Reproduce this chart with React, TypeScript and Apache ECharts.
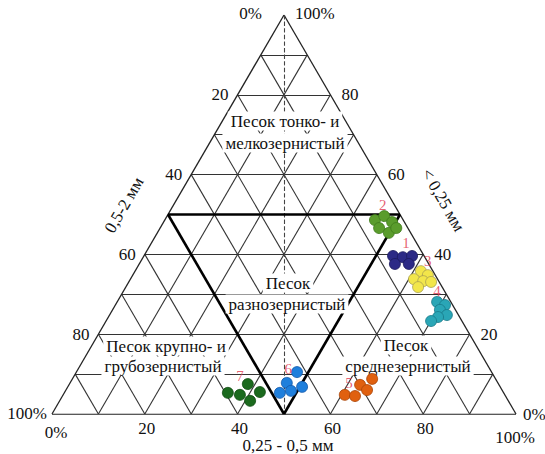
import React, { useEffect, useRef } from "react";
import * as echarts from "echarts";

// Triangle frame in pixels (base from left to right, apex on top)
const FRAME = { left: 52, top: 15, width: 464, height: 399 };
const APEX_X = FRAME.left + FRAME.width / 2;

// Grid every 10 %
const GRID_STEPS = [10, 20, 30, 40, 50, 60, 70, 80, 90];

// Tick labels on the three sides
const LEFT_TICKS = ["20", "40", "60", "80"];
const RIGHT_TICKS = ["80", "60", "40", "20"];
const BOTTOM_TICKS = ["20", "40", "60", "80"];
const TICK_FRACTIONS = [0.2, 0.4, 0.6, 0.8];

// Sample groups: [x along the base %, height %]
const group1 = [[73.5, 39.6], [75.6, 39.3], [77.6, 39.6], [73.9, 37.6], [76.9, 37.6]];
const group2 = [[69.6, 48.6], [71.6, 49.6], [73.3, 48.1], [70.5, 46.6], [72.6, 45.4], [74.2, 46.6]];
const group3 = [[79.5, 35.8], [81.0, 34.8], [78.0, 33.8], [80.0, 33.3], [81.7, 33.1], [78.9, 31.8]];
const group4 = [[83.0, 28.1], [84.7, 27.3], [83.6, 26.1], [85.1, 24.8], [83.2, 24.3], [81.7, 23.3]];
const group5 = [[66.4, 7.3], [69.0, 8.8], [67.9, 6.0], [63.1, 4.8], [65.3, 4.5]];
const group6 = [[52.8, 10.5], [50.6, 7.8], [49.1, 5.3], [51.5, 5.8], [53.9, 6.8]];
const group7 = [[42.2, 7.5], [44.8, 5.5], [37.9, 5.3], [40.5, 4.8], [42.7, 3.3]];

const groupNames = ["1", "2", "3", "4", "5", "6", "7"];
const groupLabelPos = [[76.3, 42.9], [71.3, 52.4], [81.0, 38.3], [83.0, 30.8], [64.0, 7.8], [50.9, 11.3], [40.5, 9.5]];
const groupColors = ["#2c2a86", "#5a9c2c", "#f2e64a", "#2aa6b6", "#e0600f", "#1f7fdc", "#1b6a1e"];
const groupBorders = ["#1c1a5c", "#3e7a1a", "#a8a050", "#187888", "#a84408", "#1458a8", "#0e4a10"];

const SERIF = "'Times New Roman', 'Liberation Serif', 'DejaVu Serif', serif";

function text(x: number, y: number, t: string, align: string, extra: any = {}) {
  return {
    type: "text",
    x,
    y,
    z: 20,
    ...extra,
    style: {
      text: t,
      fontFamily: SERIF,
      fontSize: 17,
      fill: "#111",
      align,
      textAlign: align,
      verticalAlign: "middle",
      textVerticalAlign: "middle",
      ...(extra.style || {}),
    },
  };
}

function regionLabel(x: number, y: number, t: string) {
  return text(x, y, t, "center", {
    style: { backgroundColor: "#fff", padding: [1, 3] },
  });
}

export default function App() {
  const ref = useRef<HTMLDivElement>(null);

  useEffect(() => {
    if (!ref.current) return;
    const chart = echarts.init(ref.current, undefined, { renderer: "svg" });

    const gridSegs: any[] = [];
    for (const k of GRID_STEPS) {
      gridSegs.push({ coords: [[k / 2, k], [100 - k / 2, k]] });
      gridSegs.push({ coords: [[k, 0], [50 + k / 2, 100 - k]] });
      gridSegs.push({ coords: [[100 - k, 0], [50 - k / 2, 100 - k]] });
    }
    const outline = [
      { coords: [[0, 0], [100, 0]] },
      { coords: [[0, 0], [50, 100]] },
      { coords: [[100, 0], [50, 100]] },
    ];
    const thick = [
      { coords: [[25, 50], [75, 50]] },
      { coords: [[25, 50], [50, 0]] },
      { coords: [[75, 50], [50, 0]] },
    ];
    const axisLine = [{ coords: [[50, 100], [50, 0]] }];

    const groups = [group1, group2, group3, group4, group5, group6, group7];

    const graphics: any[] = [];
    TICK_FRACTIONS.forEach((t, i) => {
      const y = FRAME.top + FRAME.height * t;
      graphics.push(text(APEX_X - (FRAME.width / 2) * t - 9, y, LEFT_TICKS[i], "right"));
      graphics.push(text(APEX_X + (FRAME.width / 2) * t + 11, y, RIGHT_TICKS[i], "left"));
      graphics.push(text(FRAME.left + FRAME.width * t + 2, 428, BOTTOM_TICKS[i], "center"));
    });
    graphics.push(text(262, 13, "0%", "right"));
    graphics.push(text(295, 13, "100%", "left"));
    graphics.push(text(47, 413, "100%", "right"));
    graphics.push(text(56, 432, "0%", "center"));
    graphics.push(text(523, 414, "0%", "left"));
    graphics.push(text(515, 437, "100%", "center"));
    graphics.push(text(288, 445, "0,25 - 0,5 мм", "center"));
    graphics.push(text(124, 205, "0,5-2 мм", "center", { rotation: Math.PI / 3 }));
    graphics.push(text(443, 200, "< 0,25 мм", "center", { rotation: -Math.PI / 3 }));

    graphics.push(regionLabel(285, 121, "Песок тонко- и"));
    graphics.push(regionLabel(285, 143, "мелкозернистый"));
    graphics.push(regionLabel(288, 283, "Песок"));
    graphics.push(regionLabel(287, 304, "разнозернистый"));
    graphics.push(regionLabel(166, 346, "Песок крупно- и"));
    graphics.push(regionLabel(163, 366, "грубозернистый"));
    graphics.push(regionLabel(406, 345, "Песок"));
    graphics.push(regionLabel(408, 366, "среднезернистый"));

    const lineSeries = (data: any[], width: number, color: string, type = "solid", z = 1) => ({
      type: "lines",
      coordinateSystem: "cartesian2d",
      polyline: false,
      silent: true,
      z,
      lineStyle: { color, width, type, opacity: 1 },
      data,
    });

    chart.setOption({
      animation: false,
      backgroundColor: "#fff",
      grid: {
        left: FRAME.left,
        top: FRAME.top,
        width: FRAME.width,
        height: FRAME.height,
      },
      xAxis: { type: "value", min: 0, max: 100, show: false },
      yAxis: { type: "value", min: 0, max: 100, show: false },
      graphic: graphics,
      series: [
        lineSeries(gridSegs, 1.1, "#333"),
        lineSeries(outline, 1.3, "#222"),
        lineSeries(axisLine, 1.1, "#444", "dashed"),
        lineSeries(thick, 2.6, "#000", "solid", 3),
        ...groups.map((g, i) => ({
          type: "scatter",
          name: groupNames[i],
          z: 30,
          symbol: "circle",
          symbolSize: 11,
          itemStyle: { color: groupColors[i], borderColor: groupBorders[i], borderWidth: 0.8, opacity: 1 },
          data: g,
        })),
        {
          type: "scatter",
          z: 31,
          symbolSize: 1,
          itemStyle: { color: "rgba(0,0,0,0)" },
          label: {
            show: true,
            position: "inside",
            formatter: (p: any) => p.value[2],
            fontFamily: SERIF,
            fontSize: 15,
            color: "#e0364e",
          },
          data: groupLabelPos.map((p, i) => [p[0], p[1], groupNames[i]]),
        },
      ],
    });

    return () => chart.dispose();
  }, []);

  return (
    <div
      ref={ref}
      style={{ position: "fixed", left: 0, top: 0, width: 545, height: 454, background: "#fff" }}
    />
  );
}
